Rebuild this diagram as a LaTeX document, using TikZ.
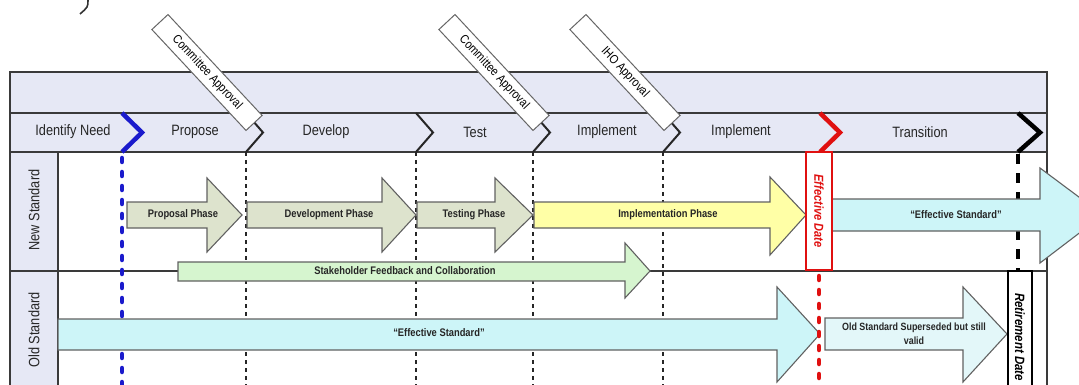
\documentclass[tikz,border=0pt]{standalone}
\usepackage{fontspec}
\setmainfont{Liberation Sans}[FakeStretch=0.85]
\definecolor{lav}{HTML}{E6E8F5}
\definecolor{phg}{HTML}{DDE3CD}
\definecolor{yel}{HTML}{FFFFA6}
\definecolor{cya}{HTML}{CDF5F8}
\definecolor{cyl}{HTML}{E3F7F9}
\definecolor{stg}{HTML}{D6F5CF}
\definecolor{frm}{HTML}{3A3A3A}
\definecolor{blu}{HTML}{1A1ACC}
\definecolor{rd}{HTML}{E01010}
\begin{document}
\begin{tikzpicture}[x=1pt,y=-1pt,
  frame/.style={draw=frm,line width=1.4},
  bandlbl/.style={font=\fontsize{15}{15}\selectfont,text=black!85},
  rowlbl/.style={font=\fontsize{15}{15}\selectfont,text=black!85,rotate=90},
  blk/.style={draw=frm!80,line width=1.1},
  phl/.style={font=\bfseries\fontsize{11}{12}\selectfont,text=black!85},
  tag/.style={draw=black!60,fill=white,line width=1,rotate=-47,minimum width=138,minimum height=22,inner sep=0pt,font=\fontsize{12.5}{12.5}\selectfont},
  thindash/.style={draw=black!85,line width=1.6,dash pattern=on 4 off 4},
  chev/.style={line width=2,draw=black!85},
  fatchev/.style={line width=4.5},
  dotline/.style={line width=4.5,line cap=round,dash pattern=on 4 off 10},
  datebox/.style={line width=2.5,fill=white,inner sep=0pt,rotate=-90}]
\useasboundingbox (0,0) rectangle (1079,385);
\clip (0,0) rectangle (1079,385);
% stray mark at top left
\draw[line width=1.6,black!80] (88,0) .. controls (88,7) .. (80,14);
% bands
\fill[lav] (10,72) rectangle (1047,152);
\fill[lav] (10,152) rectangle (58,390);
\draw[frame] (10,390) -- (10,72) -- (1047,72) -- (1047,390);
\draw[frame] (10,113) -- (1047,113);
\draw[frame] (10,152) -- (1047,152);
\draw[frame] (58,152) -- (58,390);
\draw[frame] (10,271) -- (1047,271);
% phase labels
\node[bandlbl] (l1) at (73,132) {Identify Need};
\node[bandlbl] (l2) at (195,132) {Propose};
\node[bandlbl] (l3) at (326,132) {Develop};
\node[bandlbl] (l4) at (475,132) {Test};
\node[bandlbl] (l5) at (607,132) {Implement};
\node[bandlbl] (l6) at (741,132) {Implement};
\node[bandlbl] (l7) at (920,132) {Transition};
% row labels
\node[rowlbl] (rn) at (34,210) {New Standard};
\node[rowlbl] (ro) at (34,330) {Old Standard};
% vertical dashed lines
\foreach \x in {246,416,533,663} \draw[thindash] (\x,152) -- (\x,390);
\draw[dotline,blu] (122,158) -- (122,390);
\draw[line width=4.5,black,dash pattern=on 10 off 9] (1018,154) -- (1018,271);
% chevrons
\draw[fatchev,blu] (122,113) -- (142,132.5) -- (122,152);
\foreach \x in {246,416,533,663} \draw[chev] (\x,113) -- (\x+17,132.5) -- (\x,152);
\draw[fatchev,rd] (820,113) -- (840,132.5) -- (820,152);
\draw[fatchev,black] (1018,113) -- (1040,132.5) -- (1018,152);
% arrows new standard row
\draw[blk,fill=phg] (127,202) -- (207,202) -- (207,178) -- (242,215) -- (207,252) -- (207,228) -- (127,228) -- cycle;
\draw[blk,fill=phg] (247,202) -- (382,202) -- (382,178) -- (416,215) -- (382,252) -- (382,228) -- (247,228) -- cycle;
\draw[blk,fill=phg] (417,202) -- (495,202) -- (495,178) -- (533,215) -- (495,252) -- (495,228) -- (417,228) -- cycle;
\draw[blk,fill=yel] (534,202) -- (770,202) -- (770,177) -- (806,215) -- (770,255) -- (770,228) -- (534,228) -- cycle;
\draw[blk,fill=cya] (832,199) -- (1040,199) -- (1040,168) -- (1103,215) -- (1040,263) -- (1040,231) -- (832,231) -- cycle;
\node[phl] (pp) at (183,215) {Proposal Phase};
\node[phl] (dp) at (329,215) {Development Phase};
\node[phl] (tp) at (474,215) {Testing Phase};
\node[phl] (ip) at (668,215) {Implementation Phase};
\node[phl] (en) at (956,215) {“Effective Standard”};
% stakeholder arrow
\draw[blk,fill=stg] (178,262) -- (625,262) -- (625,243) -- (650,271) -- (625,298) -- (625,281) -- (178,281) -- cycle;
\node[phl] (sf) at (405,271) {Stakeholder Feedback and Collaboration};
% old standard row
\draw[blk,fill=cya] (58,319) -- (777,319) -- (777,287) -- (820,334) -- (777,382) -- (777,350) -- (58,350) -- cycle;
\node[phl] (eo) at (439,333) {“Effective Standard”};
\draw[dotline,rd] (819,276) -- (819,390);
\draw[blk,fill=cyl] (825,318) -- (963,318) -- (963,287) -- (1007,334) -- (963,382) -- (963,350) -- (825,350) -- cycle;
\node[phl,align=center,font=\bfseries\fontsize{10.5}{14}\selectfont] (os) at (914,334) {Old Standard Superseded but still\\valid};
% date boxes
\node[datebox,draw=rd,minimum width=118,minimum height=26,text=rd,font=\bfseries\itshape\fontsize{13}{13}\selectfont] (ed) at (819,211) {Effective Date};
\node[datebox,draw=black,minimum width=132,minimum height=24,text=black,font=\bfseries\itshape\fontsize{13.5}{13.5}\selectfont] (rd) at (1020,337) {Retirement Date};
% approval tags
\node[tag] (ca1) at (207,72.5) {Committee Approval};
\node[tag] (ca2) at (494,72.5) {Committee Approval};
\node[tag] (iho) at (625,72.5) {IHO Approval};
\end{tikzpicture}
\end{document}
